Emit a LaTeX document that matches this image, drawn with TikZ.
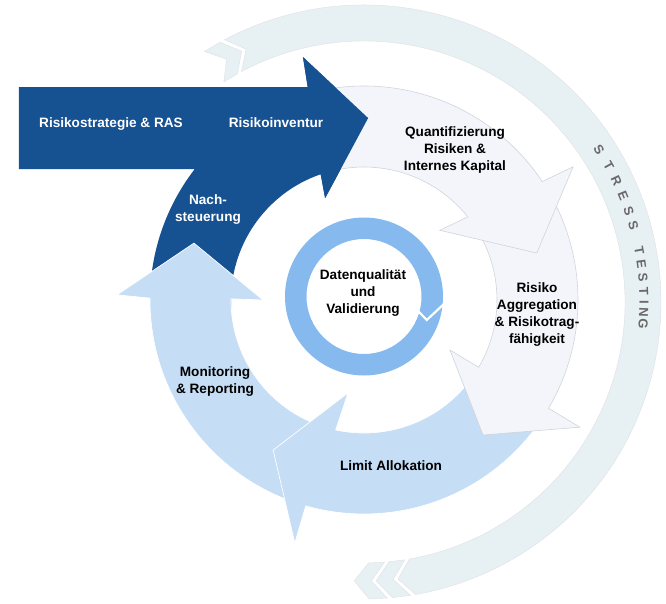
\documentclass[tikz,border=0pt]{standalone}
\usepackage{fontspec}
\setmainfont{Liberation Sans}
\definecolor{darkblue}{RGB}{22,81,145}
\definecolor{segblue}{RGB}{197,221,245}
\definecolor{palegray}{RGB}{243,245,250}
\definecolor{ringblue}{RGB}{134,185,238}
\definecolor{stressbg}{RGB}{231,240,243}
\definecolor{stresstxt}{RGB}{105,105,105}
\definecolor{edgegray}{RGB}{208,212,218}
\begin{document}
\begin{tikzpicture}[x=1pt,y=1pt,
  lbl/.style={font=\fontsize{13.6}{17}\selectfont\bfseries, align=center, inner sep=0pt},
  whitelbl/.style={lbl, text=white},
  blacklbl/.style={lbl, text=black},
  segA/.style={fill=palegray, draw=edgegray, line width=0.6pt},
  segB/.style={fill=segblue, draw=white, line width=0.7pt},
  darkseg/.style={fill=darkblue},
  stress/.style={fill=stressbg, draw=edgegray!70, line width=0.4pt},
  stl/.style={font=\fontsize{13}{13}\selectfont\bfseries, text=stresstxt, inner sep=0pt}
]
\useasboundingbox (-364,-303) rectangle (302,300);

% outer STRESS TESTING ring
\begin{scope}[shift={(0,-2)}]
  \path[stress] (118:297) arc[start angle=118, end angle=-80, radius=297]
     -- (-83:279) -- (-80:261) arc[start angle=-80, end angle=118, radius=261]
     -- (115:279) -- cycle;
  \path[stress] (122.5:297) -- (119:297) -- (116:279) -- (119:261) -- (122.5:261) -- (119.5:279) -- cycle;
  \path[stress] (-81:297) -- (-84.5:297) -- (-87.5:279) -- (-84.5:261) -- (-81:261) -- (-84:279) -- cycle;
  \path[stress] (-85.5:297) -- (-89:297) -- (-92:279) -- (-89:261) -- (-85.5:261) -- (-88.5:279) -- cycle;
  \foreach \a/\c [count=\i] in {32.9/S,29.1/T,25.6/R,22.2/E,19.0/S,15.9/S,10.6/T,7.8/E,5.0/S,2.2/T,-0.1/I,-2.2/N,-4.4/G}
    \node[stl, rotate=\a-90] (st\i) at (\a:280) {\c};
\end{scope}

% dark arrow (Risikostrategie / Risikoinventur / Nachsteuerung)
\path[darkseg] (-345,213) -- (-56.3,213) -- (104.1:250.5) -- (88.7:182) -- (110.9:109)
   -- (109:133) arc[start angle=109, end angle=183, radius=133]
   -- (183:214) arc[start angle=183, end angle=142.3, radius=214]
   -- (-345,131) -- cycle;

% Monitoring & Reporting
\path[segB] (-110:214) arc[start angle=-110, end angle=-180.5, radius=214]
   -- (-181.2:247) -- (-198.5:179.3) -- (-180:101)
   -- (-180.5:133) arc[start angle=-180.5, end angle=-110, radius=133] -- cycle;

% Limit Allokation
\path[segB] (-35:214) arc[start angle=-35, end angle=-105.8, radius=214]
   -- (-105.9:252.6) -- (-121.2:175.4) -- (-99.8:94.4)
   -- (-102.3:133) arc[start angle=-102.3, end angle=-35, radius=133] -- cycle;

% Risiko Aggregation
\path[segA] (28:214) arc[start angle=28, end angle=-30.4, radius=214]
   -- (-30.5:250.6) -- (-48.6:180) -- (-30.2:99.5)
   -- (-30.4:133) arc[start angle=-30.4, end angle=28, radius=133] -- cycle;

% Quantifizierung
\path[segA] (103:214) arc[start angle=103, end angle=33.6, radius=214]
   -- (32.5:248) -- (15.2:179) -- (42.6:103)
   -- (38.7:133) arc[start angle=38.7, end angle=103, radius=133] -- cycle;

% dark arrow head on top
\path[darkseg] (-56.3,213) -- (104.1:250.5) -- (88.7:182) -- (110.9:109) -- (109:133) -- cycle;

% inner ring
\begin{scope}[shift={(0,3.5)}]
  \path[fill=ringblue, even odd rule] (0,0) circle[radius=79] (0,0) circle[radius=57.5];
  \draw[white, line width=2.2pt, line join=miter] (-15:56) -- (-20.5:67) -- (-4.8:81);
\end{scope}

% labels
\node[whitelbl] (ras) at (-253,176) {Risikostrategie \& RAS};
\node[whitelbl] (inv) at (-88,177) {Risikoinventur};
\node[whitelbl] (nach) at (-156,90.5) {Nach-\\steuerung};
\node[blacklbl] (quant) at (91,150) {Quantifizierung\\Risiken \&\\Internes Kapital};
\node[blacklbl] (agg) at (173,-15) {Risiko\\Aggregation\\\& Risikotrag-\\fähigkeit};
\node[blacklbl] (lim) at (27,-166) {Limit Allokation};
\node[blacklbl] (mon) at (-149,-81.5) {Monitoring\\\& Reporting};
\node[blacklbl] (dq) at (-1,7) {Datenqualität\\und\\Validierung};
\end{tikzpicture}
\end{document}
